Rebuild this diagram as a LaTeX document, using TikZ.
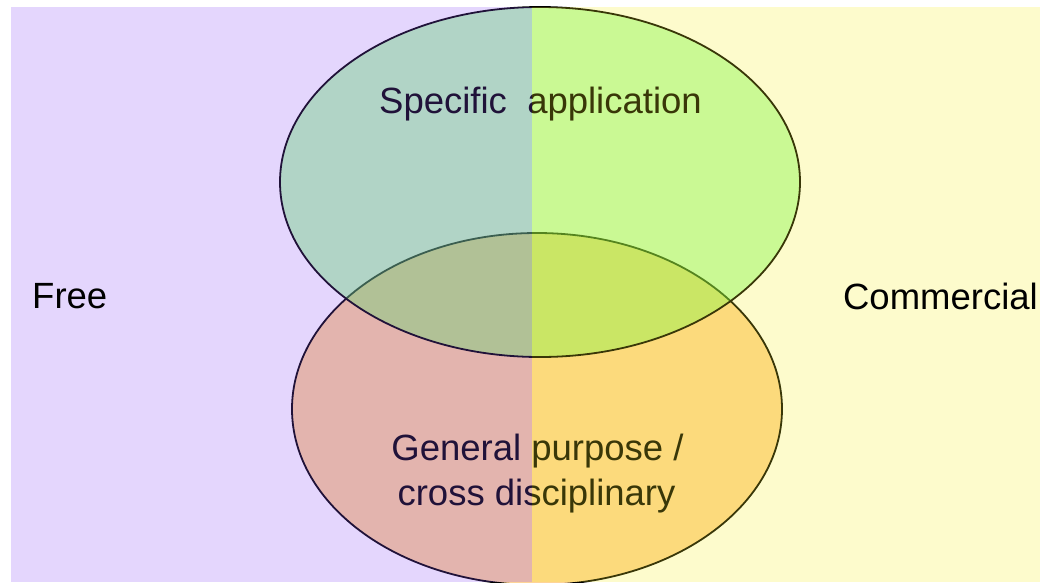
\documentclass[tikz,border=0pt]{standalone}
\usepackage{fontspec}
\setmainfont{Liberation Sans}
\definecolor{topfill}{RGB}{92,252,75}
\definecolor{botfill}{RGB}{254,212,152}
\definecolor{freecol}{RGB}{139,78,248}
\definecolor{commcol}{RGB}{248,239,35}
\begin{document}
\begin{tikzpicture}[x=1pt,y=-1pt,
  lbl/.style={font=\fontsize{36.5}{44}\selectfont, inner sep=0pt, text=black},
  ell/.style={draw=black, line width=1.8pt},
  halfbox/.style={opacity=0.23}]
\clip (0,0) rectangle (1040,582);
\fill[white] (0,0) rectangle (1040,582);
% ellipses
\draw[ell, fill=botfill] (537,409) ellipse [x radius=245pt, y radius=176pt];
\draw[ell, fill=topfill, fill opacity=0.4] (540,182) ellipse [x radius=260pt, y radius=175pt];
% labels inside the ellipses
\node[lbl, anchor=base] (spec) at (540.5,113) {Specific\ \ application};
\node[lbl, anchor=base] (gen1) at (537.5,460) {General purpose /};
\node[lbl, anchor=base] (gen2) at (536.5,505) {cross disciplinary};
% translucent halves
\fill[freecol, halfbox] (11,7) rectangle (532,582);
\fill[commcol, halfbox] (532,7) rectangle (1040,582);
% side labels
\node[lbl, anchor=west] (free) at (32,296) {Free};
\node[lbl, anchor=east] (comm) at (1038,296) {Commercial};
\end{tikzpicture}
\end{document}
